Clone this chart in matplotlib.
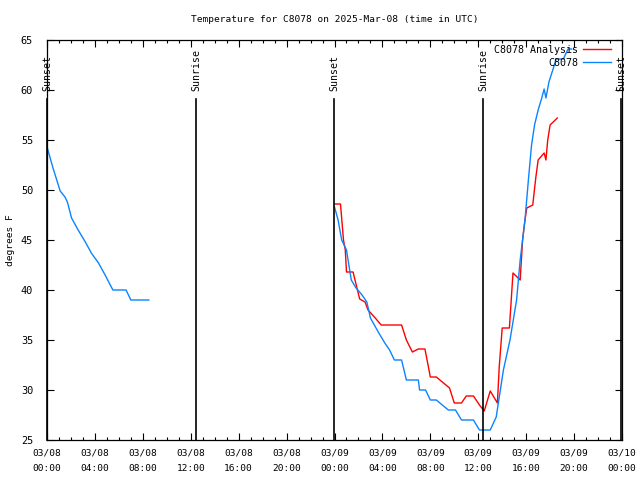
import matplotlib
matplotlib.use('Agg')
import matplotlib.pyplot as plt

# hours since 2025-03-08 00:00 UTC
obs_t1 = [0.05, 0.5, 1.1, 1.5, 1.7, 2.05, 2.6, 3.2, 3.7, 4.3, 4.85, 5.5, 6.6, 7.0, 8.5]
obs_v1 = [54.1, 52.2, 49.9, 49.3, 48.8, 47.2, 46.0, 44.8, 43.7, 42.7, 41.5, 40.0, 40.0, 39.0, 39.0]

obs_t2 = [24.0, 24.3, 24.6, 25.0, 25.4, 25.8, 26.3, 26.7, 27.0, 27.7, 28.2, 28.6, 29.0, 29.6,
          30.0, 31.0, 31.1, 31.6, 32.0, 32.5, 33.5, 34.1, 34.6, 35.6, 36.1, 37.0, 37.5, 38.1,
          38.65, 39.2, 39.5, 39.9, 40.2, 40.45, 40.7, 41.0, 41.3, 41.5, 41.65, 41.9, 42.3,
          42.5, 43.1, 43.5, 43.8]
obs_v2 = [48.3, 47.0, 45.0, 44.0, 41.0, 40.2, 39.5, 38.8, 37.2, 35.7, 34.7, 34.0, 33.0, 33.0,
          31.0, 31.0, 30.0, 30.0, 29.0, 29.0, 28.0, 28.0, 27.0, 27.0, 26.0, 26.0, 27.3, 32.0,
          35.0, 39.0, 43.0, 47.0, 51.2, 54.5, 56.5, 58.0, 59.2, 60.1, 59.2, 60.8, 62.3,
          63.1, 63.1, 64.1, 64.1]

ana_t = [24.0, 24.5, 24.75, 24.9, 25.0, 25.55, 26.1, 26.55, 26.8, 27.4, 27.9, 29.6, 30.0,
         30.5, 31.0, 31.55, 32.0, 32.5, 33.1, 33.6, 34.0, 34.6, 35.0, 35.6, 36.1, 36.5, 37.0,
         37.6, 37.75, 38.0, 38.6, 38.9, 39.5, 39.7, 39.9, 40.05, 40.55, 40.8, 41.0, 41.5,
         41.65, 41.8, 42.0, 42.6]
ana_v = [48.6, 48.6, 45.0, 44.0, 41.8, 41.8, 39.1, 38.8, 38.0, 37.2, 36.5, 36.5, 35.0,
         33.8, 34.1, 34.1, 31.3, 31.3, 30.7, 30.2, 28.7, 28.7, 29.4, 29.4, 28.5, 27.9, 29.9,
         28.7, 32.3, 36.2, 36.2, 41.7, 41.0, 45.0, 47.0, 48.2, 48.5, 51.2, 53.0, 53.7,
         53.0, 55.0, 56.5, 57.2]

event_t = [0.0, 12.45, 23.98, 36.43, 47.95]
event_names = ['Sunset', 'Sunrise', 'Sunset', 'Sunrise', 'Sunset']

xtick_pos = [0, 4, 8, 12, 16, 20, 24, 28, 32, 36, 40, 44, 48]
xtick_labels = ['03/08\n00:00', '03/08\n04:00', '03/08\n08:00', '03/08\n12:00', '03/08\n16:00',
                '03/08\n20:00', '03/09\n00:00', '03/09\n04:00', '03/09\n08:00', '03/09\n12:00',
                '03/09\n16:00', '03/09\n20:00', '03/10\n00:00']
ytick_pos = [25, 30, 35, 40, 45, 50, 55, 60, 65]

plt.rcParams['font.family'] = 'DejaVu Sans Mono'
fs = 6.8

fig = plt.figure(figsize=(6.4, 4.8), dpi=100)
ax = fig.add_axes([47/640, 40/480, 575/640, 400/480])

ax.plot(ana_t, ana_v, color='#ff0000', lw=1.0, label='C8078 Analysis')
ax.plot(obs_t2, obs_v2, color='#0a84ff', lw=1.0, label='C8078')
ax.plot(obs_t1, obs_v1, color='#0a84ff', lw=1.0)

for t, name in zip(event_t, event_names):
    ax.plot([t, t], [25, 59.1], color='k', lw=1.2, clip_on=False)
    ax.text(t, 59.9, name, rotation=90, ha='center', va='bottom', fontsize=fs + 0.3, clip_on=False)

ax.set_xlim(0, 48)
ax.set_ylim(25, 65)
ax.set_xticks(xtick_pos)
ax.set_xticklabels(xtick_labels, fontsize=fs, linespacing=2.0)
ax.set_xticks(range(0, 49), minor=True)
ax.set_yticks(ytick_pos)
ax.set_yticklabels([str(v) for v in ytick_pos], fontsize=fs + 0.6)
ax.tick_params(which='major', direction='in', length=5, width=0.8, top=True, right=True)
ax.tick_params(axis='x', which='major', pad=6)
ax.tick_params(axis='y', which='major', pad=10)
ax.tick_params(which='minor', direction='in', length=2.5, width=0.8, top=True, right=True)
for s in ax.spines.values():
    s.set_linewidth(0.9)

ax.set_ylabel('degrees F', fontsize=fs)
ax.yaxis.set_label_coords(-0.055, 0.5)
ax.set_title('Temperature for C8078 on 2025-Mar-08 (time in UTC)', fontsize=fs, pad=13)

ax.legend(loc='upper right', frameon=False, markerfirst=False, fontsize=fs + 0.4,
          handlelength=2.8, handletextpad=0.5, labelspacing=0.3,
          borderaxespad=0.1, bbox_to_anchor=(0.99, 1.0))

fig.savefig('out.png', dpi=100)
